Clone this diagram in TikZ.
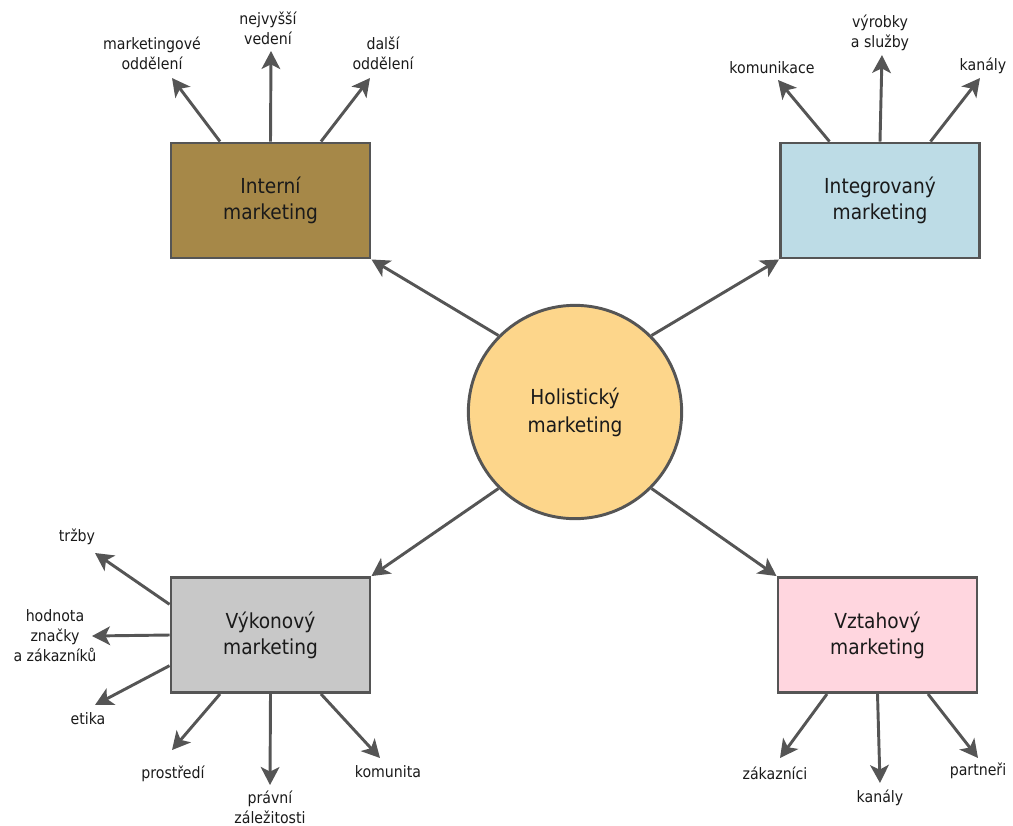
\documentclass[tikz,border=0pt]{standalone}
\usepackage{fontspec}
\setmainfont{DejaVu Sans Condensed}
\usetikzlibrary{arrows.meta,calc}

\definecolor{edgegray}{HTML}{555555}
\definecolor{txt}{HTML}{1A1A1A}
\definecolor{holfill}{HTML}{FDD68B}
\definecolor{intfill}{HTML}{A68848}
\definecolor{integfill}{HTML}{BDDCE6}
\definecolor{vykfill}{HTML}{C8C8C8}
\definecolor{vztfill}{HTML}{FFD6DF}

\tikzset{
  mainbox/.style={draw=edgegray, line width=2.2pt, minimum width=149.25pt,
    minimum height=86.25pt, align=center, text=txt,
    font=\fontsize{15.5}{19.5}\selectfont, inner sep=0pt},
  hub/.style={circle, draw=edgegray, line width=2.2pt, fill=holfill,
    minimum size=160pt, align=center, text=txt,
    font=\fontsize{15.5}{21}\selectfont, inner sep=0pt},
  leaf/.style={align=center, text=txt, font=\fontsize{11.8}{15}\selectfont,
    inner sep=0pt},
  link/.style={draw=edgegray, line width=2.2pt,
    -{Stealth[length=13.5pt, width=14pt, inset=3.5pt]}},
}

\begin{document}
\begin{tikzpicture}[x=0.75pt, y=-0.75pt]
  \useasboundingbox (0,0) rectangle (1013,825);

  % centre and the four marketing areas
  \node[hub] (hol) at (575,412) {Holistický\\marketing};
  \node[mainbox, fill=intfill]   (int)   at (270.5,200.5) {Interní\\marketing};
  \node[mainbox, fill=integfill] (integ) at (880,200.5)   {Integrovaný\\marketing};
  \node[mainbox, fill=vykfill]   (vyk)   at (270.5,635)   {Výkonový\\marketing};
  \node[mainbox, fill=vztfill]   (vzt)   at (877.5,635)   {Vztahový\\marketing};

  \draw[link] (hol.north west) -- (int.south east);
  \draw[link] (hol.north east) -- (integ.south west);
  \draw[link] (hol.south west) -- (vyk.north east);
  \draw[link] (hol.south east) -- (vzt.north west);

  % leaf labels
  \node[leaf] (l-mark)  at (152,53)  {marketingové\\oddělení};
  \node[leaf] (l-vede)  at (268,28)  {nejvyšší\\vedení};
  \node[leaf] (l-dal)   at (383,53)  {další\\oddělení};

  \node[leaf] (l-kom)   at (772,68)  {komunikace};
  \node[leaf] (l-vyr)   at (880,33)  {výrobky\\a služby};
  \node[leaf] (l-kan1)  at (983,66)  {kanály};

  \node[leaf] (l-trz)   at (77,537)  {tržby};
  \node[leaf] (l-hod)   at (55,636)  {hodnota\\značky\\a zákazníků};
  \node[leaf] (l-eti)   at (88,719)  {etika};
  \node[leaf] (l-pro)   at (173,774) {prostředí};
  \node[leaf] (l-pra)   at (270,807) {právní\\záležitosti};
  \node[leaf] (l-komu)  at (388,772) {komunita};

  \node[leaf] (l-zak)   at (775,773) {zákazníci};
  \node[leaf] (l-kan2)  at (880,798) {kanály};
  \node[leaf] (l-par)   at (978,771) {partneři};

  % arrow tips next to the leaf labels
  \coordinate (t-mark) at (172,78);
  \coordinate (t-vede) at (271,51);
  \coordinate (t-dal)  at (370,78);
  \coordinate (t-kom)  at (778,80);
  \coordinate (t-vyr)  at (882,55);
  \coordinate (t-kan1) at (980,78);
  \coordinate (t-trz)  at (95,553);
  \coordinate (t-hod)  at (92,636);
  \coordinate (t-eti)  at (95,705);
  \coordinate (t-pro)  at (172,750);
  \coordinate (t-pra)  at (270,785);
  \coordinate (t-komu) at (380,758);
  \coordinate (t-zak)  at (780,758);
  \coordinate (t-kan2) at (880,783);
  \coordinate (t-par)  at (978,758);

  % internal marketing
  \draw[link] ($(int.north west)!0.25!(int.north east)$) -- (t-mark);
  \draw[link] (int.north) -- (t-vede);
  \draw[link] ($(int.north west)!0.75!(int.north east)$) -- (t-dal);

  % integrated marketing
  \draw[link] ($(integ.north west)!0.25!(integ.north east)$) -- (t-kom);
  \draw[link] (integ.north) -- (t-vyr);
  \draw[link] ($(integ.north west)!0.75!(integ.north east)$) -- (t-kan1);

  % performance marketing
  \draw[link] ($(vyk.north west)!0.24!(vyk.south west)$) -- (t-trz);
  \draw[link] (vyk.west) -- (t-hod);
  \draw[link] ($(vyk.north west)!0.76!(vyk.south west)$) -- (t-eti);
  \draw[link] ($(vyk.south west)!0.25!(vyk.south east)$) -- (t-pro);
  \draw[link] (vyk.south) -- (t-pra);
  \draw[link] ($(vyk.south west)!0.75!(vyk.south east)$) -- (t-komu);

  % relationship marketing
  \draw[link] ($(vzt.south west)!0.25!(vzt.south east)$) -- (t-zak);
  \draw[link] (vzt.south) -- (t-kan2);
  \draw[link] ($(vzt.south west)!0.75!(vzt.south east)$) -- (t-par);
\end{tikzpicture}
\end{document}
